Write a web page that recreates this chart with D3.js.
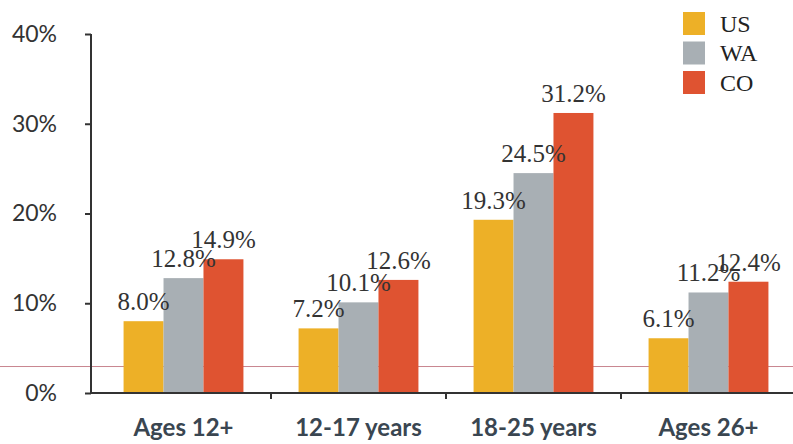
<!DOCTYPE html>
<html><head><meta charset="utf-8">
<script src="https://cdn.jsdelivr.net/npm/d3@7"></script>
<style>body{margin:0;background:#fff}svg{display:block}</style>
</head><body><svg id="c" width="793" height="444"></svg>
<script>
const categories = ["Ages 12+", "12-17 years", "18-25 years", "Ages 26+"];
const series = ["US", "WA", "CO"];
const US = [8.0, 7.2, 19.3, 6.1];
const WA = [12.8, 10.1, 24.5, 11.2];
const CO = [14.9, 12.6, 31.2, 12.4];
const yTicks = [0, 10, 20, 30, 40];
const colors = ["#EDB027", "#A8AFB4", "#DF5331"];
const scanLineValue = 2.95;

const values = {US, WA, CO};
const svg = d3.select("#c");
const W = 793, H = 444;
const x0 = d3.scaleBand().domain(categories).range([96, 796]).padding(0);
const x1 = d3.scaleBand().domain(series).range([0, x0.bandwidth()]).paddingInner(0).paddingOuter(0.69);
const y = d3.scaleLinear().domain([0, 40]).range([393, 34]);
const color = d3.scaleOrdinal().domain(series).range(colors);

svg.append("rect").attr("width", W).attr("height", H).attr("fill", "#fff");

// faint scan line
svg.append("line").attr("x1", 0).attr("x2", W).attr("y1", y(scanLineValue)).attr("y2", y(scanLineValue))
  .attr("stroke", "#c98690").attr("stroke-width", 1);

// bars
const g = svg.append("g");
categories.forEach((c, i) => {
  series.forEach(s => {
    const v = values[s][i];
    g.append("rect")
      .attr("x", x0(c) + x1(s))
      .attr("y", y(v))
      .attr("width", x1.bandwidth())
      .attr("height", y(0) - y(v))
      .attr("fill", color(s));
  });
});
// value labels
categories.forEach((c, i) => {
  series.forEach(s => {
    const v = values[s][i];
    svg.append("text")
      .attr("x", x0(c) + x1(s) + x1.bandwidth() / 2)
      .attr("y", y(v) - 11)
      .attr("text-anchor", "middle")
      .attr("font-family", "Liberation Serif, serif")
      .attr("font-size", 25)
      .attr("fill", "#333")
      .text(v.toFixed(1) + "%");
  });
});

// y axis
const yAxis = svg.append("g").attr("transform", "translate(91,0)")
  .call(d3.axisLeft(y).tickValues(yTicks).tickSize(6).tickPadding(28).tickFormat(d => d + "%"));
yAxis.select(".domain").attr("stroke", "#333").attr("stroke-width", 2).attr("d", `M0,${y(40)}V${y(0)+1}`);
yAxis.selectAll(".tick line").attr("stroke", "#333").attr("stroke-width", 2);
yAxis.selectAll(".tick text").attr("font-family", "Lato, sans-serif").attr("font-size", 23).attr("fill", "#333");

// x axis
const xAxis = svg.append("g").attr("transform", `translate(0,${y(0)})`)
  .call(d3.axisBottom(x0).tickSize(0).tickPadding(26));
xAxis.select(".domain").attr("stroke", "#333").attr("stroke-width", 2).attr("d", `M91,0H${W}`);
xAxis.selectAll(".tick text").attr("font-family", "Lato, sans-serif").attr("font-weight", "bold")
  .attr("font-size", 24).attr("fill", "#3a4651");
// boundary ticks
svg.append("g").selectAll("line").data(categories.slice(1)).join("line")
  .attr("x1", d => x0(d)).attr("x2", d => x0(d))
  .attr("y1", y(0)).attr("y2", y(0) + 6)
  .attr("stroke", "#333").attr("stroke-width", 2);

// legend
const lg = svg.append("g").attr("transform", "translate(683,12)");
series.forEach((s, i) => {
  lg.append("rect").attr("x", 0).attr("y", i * 29.5).attr("width", 22).attr("height", 23).attr("fill", color(s));
  lg.append("text").attr("x", 37).attr("y", i * 29.5 + 11.5).attr("dy", "0.35em")
    .attr("font-family", "Liberation Serif, serif").attr("font-size", 24).attr("fill", "#222").text(s);
});
</script></body></html>
